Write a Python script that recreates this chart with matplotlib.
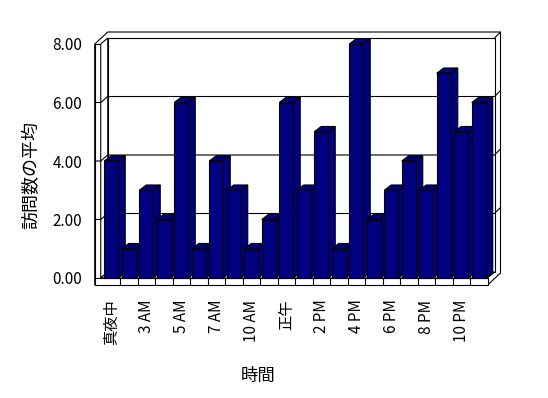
import matplotlib
matplotlib.use("Agg")
from matplotlib import pyplot as plt
from matplotlib.patches import Polygon
import numpy as np

plt.rcParams['font.family'] = ['Noto Sans CJK JP', 'DejaVu Sans']

hours = ["真夜中", "1 AM", "3 AM", "4 AM", "5 AM", "6 AM", "7 AM", "9 AM",
         "10 AM", "11 AM", "正午", "1 PM", "2 PM", "3 PM", "4 PM", "5 PM",
         "6 PM", "7 PM", "8 PM", "9 PM", "10 PM", "11 PM"]
visits = [4, 1, 3, 2, 6, 1, 4, 3, 1, 2, 6, 3, 5, 1, 8, 2, 3, 4, 3, 7, 5, 6]
yticks = [0, 2, 4, 6, 8]

navy = "#000080"
lw = 0.8

# depth offsets in data units (category, value)
ddx, ddy = 0.4, 0.205     # front plane -> back wall face
tx, ty = 0.343, 0.205     # wall thickness
bdx, bdy = 0.4, 0.18      # bar depth
bw = 0.8

n = len(visits)
x = np.arange(n)
xr = n - 0.5
xl1 = -0.6
xl0 = xl1 - tx
fb = -0.24
ymax = 8

fig = plt.figure(figsize=(5.48, 3.98), dpi=100)
ax = fig.add_axes([102.5 / 548, 120 / 398, 385 / 548, 234 / 398])
ax.set_xlim(-0.5, xr)
ax.set_ylim(0, ymax)
for s in ax.spines.values():
    s.set_visible(False)


def poly(pts, fc="white", z=1):
    ax.add_patch(Polygon(pts, closed=True, fc=fc, ec="black", lw=lw,
                         clip_on=False, zorder=z, joinstyle="miter"))


def line(xs, ys, z=2):
    ax.plot(xs, ys, color="black", lw=lw, clip_on=False, zorder=z,
            solid_capstyle="butt")


# outer hull
poly([(xl0, fb), (xl0, ymax), (xl0 + ddx + tx, ymax + ddy + ty),
      (xr + ddx + tx, ymax + ddy + ty), (xr + ddx + tx, fb + ddy + ty),
      (xr, fb)])
# back wall face
poly([(xl1 + ddx, ddy), (xl1 + ddx, ymax + ddy), (xr + ddx, ymax + ddy),
      (xr + ddx, ddy)])
# left wall front + inner face
poly([(xl0, 0), (xl0, ymax), (xl1, ymax), (xl1, 0)])
poly([(xl1, 0), (xl1, ymax), (xl1 + ddx, ymax + ddy), (xl1 + ddx, ddy)])
# floor top and front
poly([(xl1, 0), (xl1 + ddx, ddy), (xr + ddx, ddy), (xr, 0)])
poly([(xl0, fb), (xl0, 0), (xr, 0), (xr, fb)])
line([xr + ddx, xr + ddx + tx], [ymax + ddy, ymax + ddy + ty])

# gridlines
for v in yticks[1:-1]:
    line([xl0, xl1, xl1 + ddx, xr + ddx, xr + ddx + tx],
         [v, v, v + ddy, v + ddy, v + ddy + ty])

# category ticks on floor front
for k in range(1, n):
    line([k - 0.5, k - 0.5], [fb, 0])

# bars
for xi, v in zip(x, visits):
    l, r = xi - bw / 2, xi + bw / 2
    poly([(r, 0), (r + bdx, bdy), (r + bdx, v + bdy), (r, v)], fc=navy, z=3)
    poly([(l, v), (r, v), (r + bdx, v + bdy), (l + bdx, v + bdy)], fc=navy, z=3)
    ax.bar(xi, v, width=bw, color=navy, edgecolor="black", linewidth=lw,
           zorder=3, clip_on=False)

ax.set_yticks(yticks, labels=[f"{v:.2f}" for v in yticks])
ax.set_xticks(x, labels=[h if i % 2 == 0 else "" for i, h in enumerate(hours)])
ax.tick_params(axis="y", length=0, pad=14.5, labelsize=11)
ax.tick_params(axis="x", length=0, pad=15.5, labelsize=11, rotation=90)

ax.set_xlabel("時間", fontsize=12.5)
ax.xaxis.set_label_coords(0.404, -0.38)
ax.set_ylabel("訪問数の平均", fontsize=13)
ax.yaxis.set_label_coords(-0.162, 0.44)

fig.savefig("out.png", dpi=100)
